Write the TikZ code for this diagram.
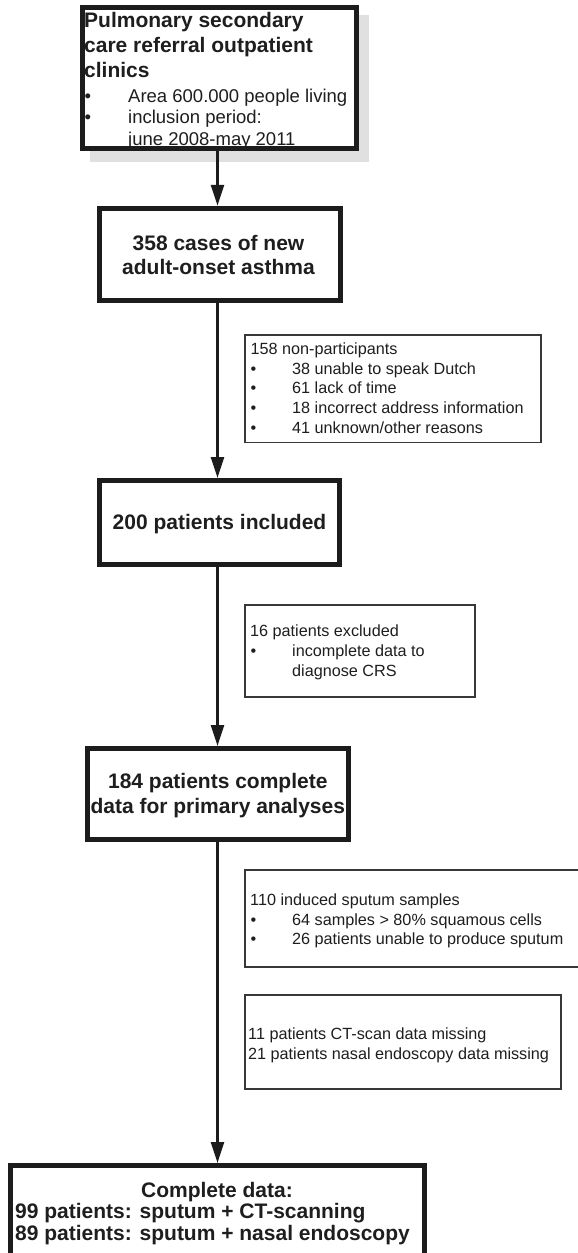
\documentclass[tikz,border=0pt]{standalone}
\usepackage{fontspec}
\setmainfont{Liberation Sans}
\usetikzlibrary{arrows.meta}
\definecolor{boxc}{HTML}{1C1C1C}
\definecolor{sidec}{HTML}{383838}
\definecolor{txtc}{HTML}{1E1E1E}
\definecolor{shadowc}{HTML}{E0E0E0}
\begin{document}
\begin{tikzpicture}[x=1pt,y=-1pt,
  mainbox/.style={draw=boxc, line width=5pt, inner sep=0pt, outer sep=2.5pt, fill=white},
  sidebox/.style={draw=sidec, line width=1.8pt, inner sep=0pt, outer sep=0.9pt},
  flow/.style={draw=boxc, line width=2.5pt, -{Triangle[width=13pt,length=21pt]}},
  bigtxt/.style={font=\fontsize{21}{25}\selectfont\bfseries, text=txtc, inner sep=0pt},
  midtxt/.style={font=\fontsize{18.5}{21}\selectfont, text=txtc, inner sep=0pt, anchor=base west},
  smalltxt/.style={font=\fontsize{16.2}{20}\selectfont, text=txtc, inner sep=0pt, anchor=base west}]
\useasboundingbox (0,0) rectangle (578,1253);
\clip (0,0) rectangle (578,1253);
\fill[white] (0,0) rectangle (578,1253);

% shadow of the first box
\fill[shadowc] (90,15) rectangle (369,162);

% main boxes
\node[mainbox, minimum width=274pt, minimum height=141pt] (b1) at (219.5,78) {};
\node[mainbox, minimum width=241.5pt, minimum height=92.3pt] (b2) at (219.75,254.4) {};
\node[mainbox, minimum width=240pt, minimum height=84pt] (b3) at (219.5,522.5) {};
\node[mainbox, minimum width=261pt, minimum height=91pt] (b4) at (218,794) {};
\node[mainbox, minimum width=414pt, minimum height=97pt] (b5) at (217.5,1214) {};

% side boxes
\node[sidebox, minimum width=296pt, minimum height=107.5pt] (s1) at (393,388.75) {};
\node[sidebox, minimum width=230pt, minimum height=91.7pt] (s2) at (360,650.85) {};
\node[sidebox, minimum width=340pt, minimum height=97pt] (s3) at (415,918.5) {};
\node[sidebox, minimum width=316pt, minimum height=94pt] (s4) at (403,1042) {};

% texts of box 1
\node[bigtxt, anchor=base west] (t1a) at (84,27.5) {Pulmonary secondary};
\node[bigtxt, anchor=base west] (t1b) at (84,52.5) {care referral outpatient};
\node[bigtxt, anchor=base west] (t1c) at (84,77) {clinics};
\node[midtxt] (t1d) at (84.5,102) {•};
\node[midtxt] (t1e) at (128,102) {Area 600.000 people living};
\node[midtxt] (t1f) at (84.5,123) {•};
\node[midtxt] (t1g) at (128,123) {inclusion period:};
\node[midtxt] (t1h) at (128,145) {june 2008-may 2011};

% box 2
\node[bigtxt, anchor=base] (t2a) at (218.5,250) {358 cases of new};
\node[bigtxt, anchor=base] (t2b) at (218.5,274) {adult-onset asthma};
% box 3
\node[bigtxt, anchor=base] (t3a) at (219.5,529) {200 patients included};
% box 4
\node[bigtxt, anchor=base] (t4a) at (217.8,788) {184 patients complete};
\node[bigtxt, anchor=base] (t4b) at (217.8,813) {data for primary analyses};
% box 5
\node[bigtxt, anchor=base] (t5a) at (217,1197) {Complete data:};
\node[bigtxt, anchor=base west] (t5b) at (15,1218) {99 patients: sputum + CT-scanning};
\node[bigtxt, anchor=base west] (t5c) at (15,1240) {89 patients: sputum + nasal endoscopy};

% side box 1
\node[smalltxt] (u1a) at (250.5,354) {158 non-participants};
\node[smalltxt] (u1b) at (250.5,374) {•};
\node[smalltxt] (u1c) at (292,374) {38 unable to speak Dutch};
\node[smalltxt] (u1d) at (250.5,393.5) {•};
\node[smalltxt] (u1e) at (292,393.5) {61 lack of time};
\node[smalltxt] (u1f) at (250.5,413) {•};
\node[smalltxt] (u1g) at (292,413) {18 incorrect address information};
\node[smalltxt] (u1h) at (250.5,433) {•};
\node[smalltxt] (u1i) at (292,433) {41 unknown/other reasons};
% side box 2
\node[smalltxt] (u2a) at (250,636.5) {16 patients excluded};
\node[smalltxt] (u2b) at (250.5,656.5) {•};
\node[smalltxt] (u2c) at (292,656.5) {incomplete data to};
\node[smalltxt] (u2d) at (292,676) {diagnose CRS};
% side box 3
\node[smalltxt] (u3a) at (250,905) {110 induced sputum samples};
\node[smalltxt] (u3b) at (250.5,925) {•};
\node[smalltxt] (u3c) at (292,925) {64 samples > 80\% squamous cells};
\node[smalltxt] (u3d) at (250.5,944) {•};
\node[smalltxt] (u3e) at (292,944) {26 patients unable to produce sputum};
% side box 4
\node[smalltxt] (u4a) at (248,1039) {11 patients CT-scan data missing};
\node[smalltxt] (u4b) at (248,1059) {21 patients nasal endoscopy data missing};

% connectors
\coordinate (ax) at (217.5,0);
\draw[flow] (b1.south -| ax) -- (b2.north -| ax);
\draw[flow] (b2.south -| ax) -- (b3.north -| ax);
\draw[flow] (b3.south -| ax) -- (b4.north -| ax);
\draw[flow] (b4.south -| ax) -- (b5.north -| ax);
\end{tikzpicture}
\end{document}
